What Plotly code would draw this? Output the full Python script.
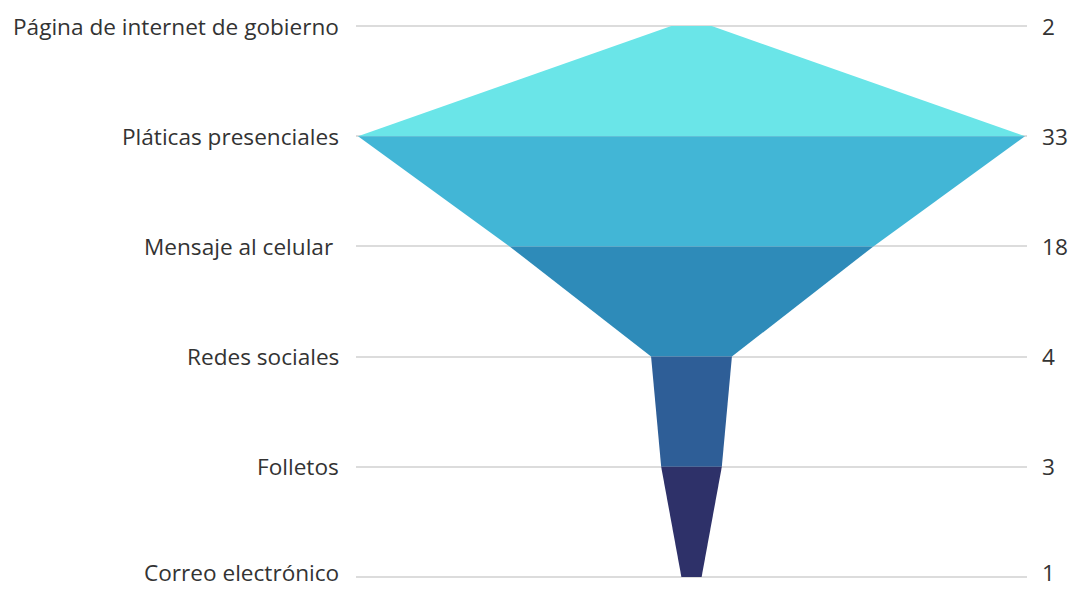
import plotly.graph_objects as go

# Canales de comunicación y número de menciones
canales = [
    "Página de internet de gobierno",
    "Pláticas presenciales",
    "Mensaje al celular ",
    "Redes sociales",
    "Folletos",
    "Correo electrónico",
]
valores = [2, 33, 18, 4, 3, 1]
colores = ["#6AE5E8", "#42B6D6", "#2E8BB9", "#2E5E97", "#2E3169"]

fig = go.Figure()

# Each band links the width of one row to the next, centred on zero
for i in range(len(valores) - 1):
    a, b = valores[i] / 2, valores[i + 1] / 2
    fig.add_trace(go.Scatter(
        x=[-a, a, b, -b, -a],
        y=[i, i, i + 1, i + 1, i],
        fill="toself",
        fillcolor=colores[i],
        line=dict(width=0),
        mode="lines",
        hoverinfo="skip",
        showlegend=False,
    ))

n = len(valores)
label_font = dict(family="Open Sans", size=22.6, color="#333333")

# Category names on the left, counts on the right of each row;
# the last row is nudged up slightly so its text box stays on the page
for i in range(n):
    dy = 4 if i == n - 1 else 0
    fig.add_annotation(
        x=0, xref="paper", y=i, yref="y", text=canales[i],
        xanchor="right", yanchor="middle", xshift=-16, yshift=dy,
        showarrow=False, font=label_font, borderpad=0,
    )
    fig.add_annotation(
        x=1, xref="paper", y=i, yref="y", text=str(valores[i]),
        xanchor="left", yanchor="middle", xshift=14, yshift=dy,
        showarrow=False, font=label_font, borderpad=0,
    )

fig.update_layout(
    width=1073, height=589,
    margin=dict(l=356, r=46, t=25, b=11),
    paper_bgcolor="white", plot_bgcolor="white",
    xaxis=dict(range=[-16.6, 16.6], visible=False),
    yaxis=dict(
        range=[n - 1 + 0.01, -0.01], tickvals=list(range(n)),
        showticklabels=False,
        showgrid=True, gridcolor="#dcdcdc", gridwidth=2,
        zeroline=False, showline=False, ticks="", automargin=False,
    ),
)

fig.write_html("out.html")
